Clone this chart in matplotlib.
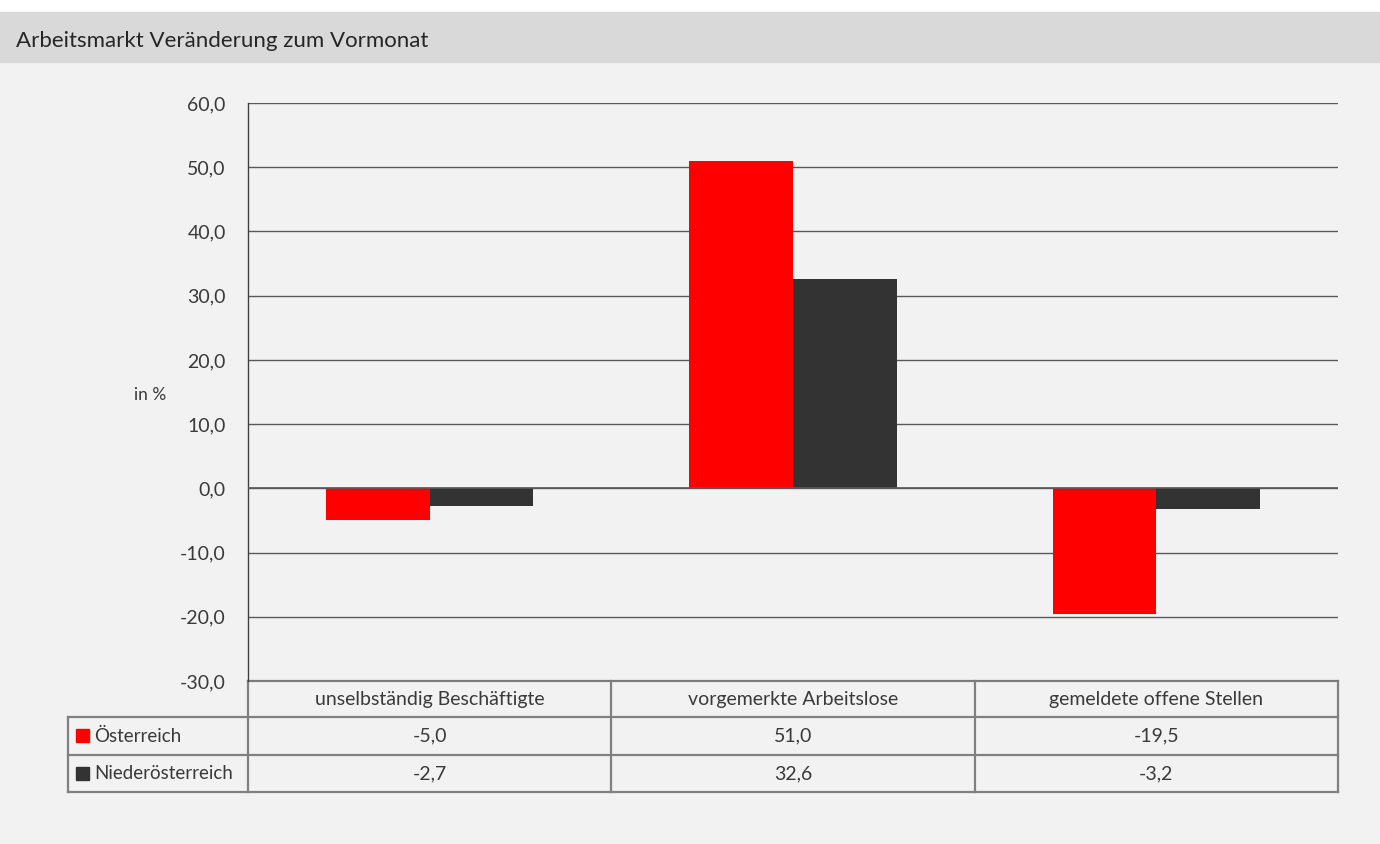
import matplotlib
matplotlib.use("Agg")
import matplotlib.pyplot as plt
import numpy as np

categories = ["unselbständig Beschäftigte", "vorgemerkte Arbeitslose", "gemeldete offene Stellen"]
series = ["Österreich", "Niederösterreich"]
oesterreich = [-5.0, 51.0, -19.5]
niederoesterreich = [-2.7, 32.6, -3.2]
colors = ["#ff0000", "#333333"]
yticks = [-30, -20, -10, 0, 10, 20, 30, 40, 50, 60]

plt.rcParams['font.family'] = ['Lato', 'DejaVu Sans']
txt = "#3a3a3a"

W, H = 1380, 844
fig = plt.figure(figsize=(W / 100, H / 100), dpi=100)
fig.patch.set_facecolor("#f2f2f2")


def frac(x0, y0, x1, y1):
    return [x0 / W, 1 - y1 / H, (x1 - x0) / W, (y1 - y0) / H]


# overlay in pixel coordinates: background bands and table
bg = fig.add_axes([0, 0, 1, 1], zorder=0)
bg.set_xlim(0, W)
bg.set_ylim(H, 0)
bg.axis("off")
bg.add_patch(plt.Rectangle((0, 0), W, 12, color="white"))
bg.add_patch(plt.Rectangle((0, 12), W, 50, color="#d9d9d9"))
bg.text(16, 41, "Arbeitsmarkt Veränderung zum Vormonat", fontsize=16, color="#262626",
        va="center", ha="left")

# chart axes
left, right, top, bottom = 248, 1338, 103, 681
ax = fig.add_axes(frac(left, top, right, bottom), zorder=1)
ax.set_facecolor("none")
x = np.arange(len(categories))
w = 0.285
ax.bar(x - w / 2, oesterreich, w, color=colors[0], zorder=3)
ax.bar(x + w / 2, niederoesterreich, w, color=colors[1], zorder=3)
ax.set_xlim(-0.5, len(categories) - 0.5)
ax.set_ylim(-30, 60)
ax.set_yticks(yticks)
ax.set_yticklabels([f"{v:.1f}".replace(".", ",") for v in yticks], fontsize=14, color=txt)
ax.yaxis.grid(True, color="#595959", lw=1)
ax.set_axisbelow(True)
ax.axhline(0, color="#595959", lw=1.2, zorder=4)
ax.tick_params(axis="y", length=0, pad=16)
ax.set_xticks([])
for s in ["top", "right", "bottom"]:
    ax.spines[s].set_visible(False)
ax.spines["left"].set_color("#404040")
ax.spines["left"].set_linewidth(1)
fig.text(150 / W, 1 - 395 / H, "in %", fontsize=12.5, color=txt, ha="center", va="center")

# data table
col_edges = [left + i * (right - left) / len(categories) for i in range(len(categories) + 1)]
row_edges = [681, 717, 755, 792]
tbl_left = 68
lc = "#808080"
lw = 1.6
bg.plot([left, right], [row_edges[0]] * 2, color=lc, lw=lw)
for yy in row_edges[1:]:
    bg.plot([tbl_left, right], [yy, yy], color=lc, lw=lw)
bg.plot([tbl_left, tbl_left], [row_edges[1], row_edges[3]], color=lc, lw=lw)
for xx in col_edges:
    bg.plot([xx, xx], [row_edges[0], row_edges[3]], color=lc, lw=lw)
for i, cat in enumerate(categories):
    cx = (col_edges[i] + col_edges[i + 1]) / 2
    bg.text(cx, (row_edges[0] + row_edges[1]) / 2, cat, fontsize=14, color=txt,
            ha="center", va="center")
for r, (name, vals) in enumerate(zip(series, [oesterreich, niederoesterreich])):
    cy = (row_edges[r + 1] + row_edges[r + 2]) / 2
    bg.add_patch(plt.Rectangle((76, cy - 7), 13, 13, color=colors[r]))
    bg.text(94, cy, name, fontsize=13.5, color=txt, ha="left", va="center")
    for i, v in enumerate(vals):
        cx = (col_edges[i] + col_edges[i + 1]) / 2
        bg.text(cx, cy, f"{v:.1f}".replace(".", ","), fontsize=14, color=txt,
                ha="center", va="center")

fig.savefig("out.png", dpi=100, facecolor=fig.get_facecolor())
